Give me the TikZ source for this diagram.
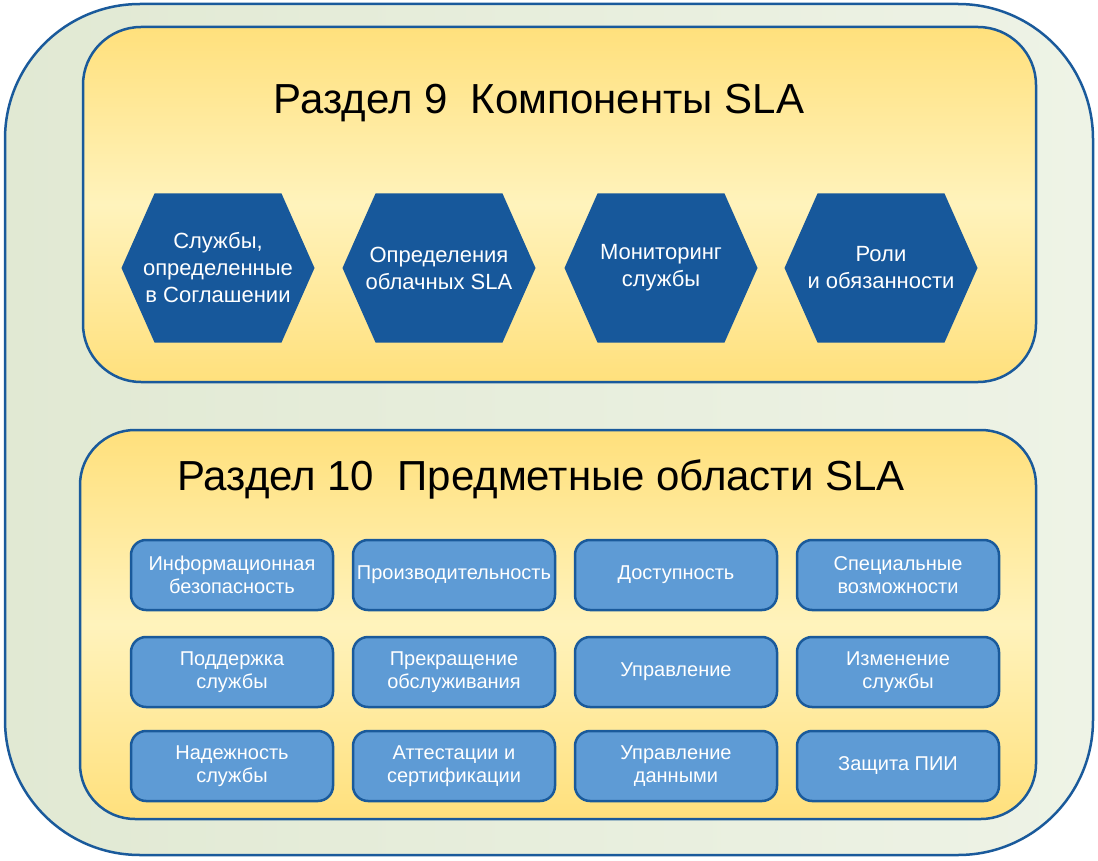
\documentclass[tikz,border=0pt]{standalone}
\usepackage{fontspec}
\setmainfont{Liberation Sans}

\definecolor{slablue}{HTML}{1A5A9B}
\definecolor{hexblue}{HTML}{17589B}
\definecolor{boxblue}{HTML}{5E9BD5}
\definecolor{bgleft}{HTML}{E1E9D3}
\definecolor{bgright}{HTML}{EEF3E6}
\definecolor{paneldark}{HTML}{FFE07C}
\definecolor{panellight}{HTML}{FFF3BC}

\begin{document}
\begin{tikzpicture}[x=1pt, y=-1pt,
    panel/.style={draw=slablue, line width=2.5pt, top color=paneldark, bottom color=paneldark, middle color=panellight},
    hexbox/.style={minimum width=193pt, minimum height=149pt, inner sep=0pt, text=white, align=center, font=\fontsize{22}{27}\selectfont,
        path picture={\fill[hexblue] (path picture bounding box.west)
            -- ([xshift=33pt]path picture bounding box.north west) -- ([xshift=-33pt]path picture bounding box.north east)
            -- (path picture bounding box.east)
            -- ([xshift=-33pt]path picture bounding box.south east) -- ([xshift=33pt]path picture bounding box.south west) -- cycle;}},
    areabox/.style={draw=slablue, line width=2.5pt, fill=boxblue, rounded corners=15pt, minimum width=202pt, minimum height=70pt, inner sep=0pt, text=white, align=center, font=\fontsize{20}{23}\selectfont},
    title/.style={font=\fontsize{42}{50}\selectfont, text=black}]
    \useasboundingbox (0,0) rectangle (1098,861);

    % Outer frame
    \draw[draw=slablue, line width=2.5pt, left color=bgleft, right color=bgright, rounded corners=135pt] (5,4) rectangle (1093,855);

    % Section 9
    \draw[panel, rounded corners=58pt] (83,27) rectangle (1036,382);
    \node[title] (sec9) at (539,103) {Раздел 9\ \ Компоненты SLA};

    \node[hexbox] (c1) at (218,268) {Службы,\\определенные\\в Соглашении};
    \node[hexbox] (c2) at (439,268) {Определения\\облачных SLA};
    \node[hexbox] (c3) at (661,268) {Мониторинг\\службы};
    \node[hexbox] (c4) at (881,268) {Роли\\и обязанности};

    % Section 10
    \draw[panel, rounded corners=55pt] (80,430) rectangle (1036,819);
    \node[title] (sec10) at (541,479) {Раздел 10\ \ Предметные области SLA};

    % Row 1
    \node[areabox] (a11) at (232,575) {Информационная\\безопасность};
    \node[areabox] (a12) at (454,575) {Производительность};
    \node[areabox] (a13) at (676,575) {Доступность};
    \node[areabox] (a14) at (898,575) {Специальные\\возможности};

    % Row 2
    \node[areabox] (a21) at (232,672) {Поддержка\\службы};
    \node[areabox] (a22) at (454,672) {Прекращение\\обслуживания};
    \node[areabox] (a23) at (676,672) {Управление};
    \node[areabox] (a24) at (898,672) {Изменение\\службы};

    % Row 3
    \node[areabox] (a31) at (232,766) {Надежность\\службы};
    \node[areabox] (a32) at (454,766) {Аттестации и\\сертификации};
    \node[areabox] (a33) at (676,766) {Управление\\данными};
    \node[areabox] (a34) at (898,766) {Защита ПИИ};
\end{tikzpicture}
\end{document}
